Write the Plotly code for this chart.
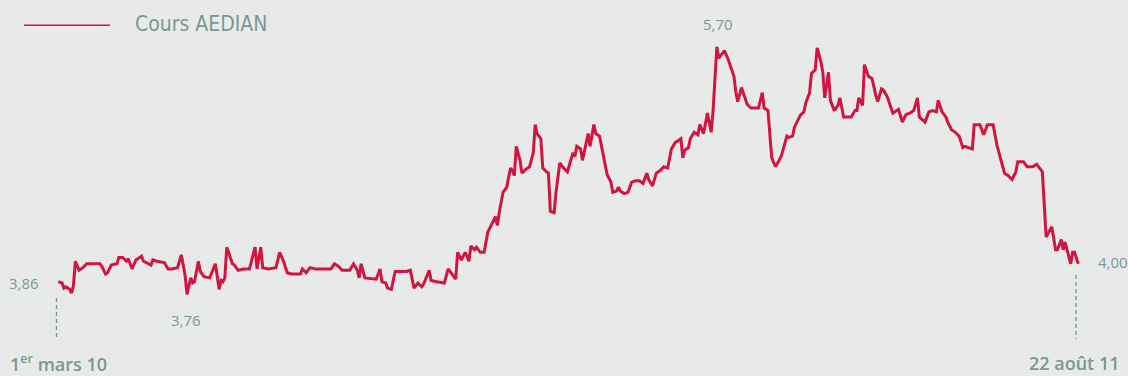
import plotly.graph_objects as go
import pandas as pd

# ---- data ----
start_date = "2010-03-01"
end_date = "2011-08-22"
series_name = "Cours AEDIAN"

day_offsets = [0,2,3,4,6,7,8,9,11,13,15,22,23,25,26,28,31,32,34,36,37,39,41,44,45,48,49,50,52,56,
               58,60,63,65,67,68,70,71,72,74,75,77,80,83,85,86,87,88,89,90,92,93,95,98,101,104,105,107,108,111,
               115,117,119,121,123,128,129,131,133,136,144,146,148,150,154,156,158,159,160,162,168,170,171,173,174,176,178,184,186,188,
               190,192,193,196,197,200,204,206,210,211,213,215,217,218,220,221,223,225,227,228,231,232,233,235,237,238,239,240,241,242,
               244,245,247,249,251,252,253,255,256,258,259,260,262,263,265,267,269,270,272,273,274,276,277,280,281,283,284,286,288,290,
               292,293,295,296,297,299,301,303,305,307,309,311,312,314,316,318,320,322,324,326,329,330,331,333,334,336,338,339,341,343,
               345,346,348,349,351,352,354,355,357,358,359,361,362,364,366,370,372,373,375,376,377,379,380,382,385,386,388,389,392,394,
               395,397,398,400,401,403,404,405,407,408,410,412,413,415,419,421,422,423,425,426,428,430,432,433,435,436,438,440,441,444,
               446,448,450,452,454,455,458,460,462,464,465,467,469,470,472,474,476,478,479,483,484,487,489,491,494,496,498,500,502,504,
               506,507,510,512,515,517,520,521,522,525,527,528,530,531,532,535,536,537,539]

prices = [3.86,3.85,3.81,3.82,3.80,3.77,3.83,4.02,3.95,3.97,4.00,4.00,3.98,3.92,3.93,3.99,4.00,4.05,4.05,4.02,
          4.04,3.96,4.03,4.06,4.02,4.00,3.99,4.03,4.02,4.01,3.96,3.96,3.97,4.07,3.91,3.76,3.89,3.85,3.86,4.02,
          3.94,3.90,3.89,4.00,3.80,3.87,3.86,3.89,4.13,4.09,4.00,3.99,3.95,3.96,3.96,4.13,3.96,4.13,3.97,3.96,
          3.97,4.09,4.02,3.93,3.92,3.92,3.96,3.93,3.97,3.96,3.96,4.00,3.98,3.95,3.95,4.00,3.95,3.89,4.00,3.89,
          3.88,3.96,3.86,3.85,3.81,3.80,3.94,3.94,3.95,3.81,3.85,3.82,3.84,3.95,3.87,3.86,3.85,3.96,3.88,4.09,
          4.03,4.09,4.02,4.14,4.11,4.13,4.09,4.09,4.25,4.28,4.37,4.30,4.40,4.56,4.60,4.68,4.75,4.73,4.69,4.92,
          4.81,4.71,4.74,4.76,4.87,5.09,5.02,4.98,4.75,4.72,4.71,4.41,4.40,4.56,4.79,4.75,4.72,4.77,4.87,4.84,
          4.92,4.90,4.81,5.02,4.92,5.09,5.02,5.00,4.85,4.70,4.64,4.56,4.57,4.60,4.57,4.55,4.56,4.64,4.65,4.65,
          4.63,4.71,4.66,4.61,4.71,4.73,4.76,4.75,4.90,4.95,4.98,4.83,4.89,4.91,4.98,5.03,5.01,5.09,5.02,5.18,
          5.03,5.20,5.70,5.61,5.65,5.67,5.60,5.56,5.47,5.35,5.27,5.38,5.34,5.25,5.22,5.22,5.34,5.22,5.20,4.97,
          4.83,4.76,4.79,4.84,5.00,4.99,5.00,5.07,5.16,5.19,5.26,5.34,5.49,5.52,5.69,5.58,5.50,5.30,5.50,5.28,
          5.20,5.24,5.30,5.15,5.15,5.20,5.20,5.30,5.24,5.56,5.47,5.45,5.32,5.27,5.37,5.36,5.31,5.22,5.18,5.21,
          5.11,5.17,5.18,5.20,5.30,5.15,5.11,5.19,5.20,5.19,5.28,5.19,5.15,5.11,5.05,5.03,5.00,4.91,4.92,4.90,
          5.09,5.09,5.01,5.09,5.09,4.93,4.83,4.71,4.69,4.66,4.72,4.80,4.80,4.76,4.76,4.78,4.72,4.50,4.21,4.29,
          4.11,4.11,4.19,4.11,4.17,4.00,4.09,4.09,4.00]

label_start = "3,86"
label_min = "3,76"
label_max = "5,70"
label_end = "4,00"
date_start_label = "1<sup>er</sup> mars 10"
date_end_label = "22 août 11"

# ---- styling ----
W, H = 1128, 376
RED = "#d3143f"
TXT = "#7b978f"
BG = "#e8eaea"
NUM_FONT = "Open Sans, Noto Sans, sans-serif"
LEG_FONT = "Liberation Sans Narrow, DejaVu Sans Condensed, sans-serif"

t0 = pd.Timestamp(start_date)
dates = t0 + pd.to_timedelta(day_offsets, unit="D")

def px(x):
    return x / W

def py(y):
    return 1 - y / H

fig = go.Figure()
fig.add_trace(go.Scatter(
    x=dates, y=prices, mode="lines", name=series_name,
    line=dict(color=RED, width=3), showlegend=False, hoverinfo="skip",
))

x_range = [t0 - pd.Timedelta(days=30.81), t0 + pd.Timedelta(days=565.26)]
y_range = [3.1216, 6.0659]

shapes = [
    # legend line
    dict(type="line", xref="paper", yref="paper", x0=px(24), x1=px(110), y0=py(25.3), y1=py(25.3),
         line=dict(color=RED, width=1.6)),
    # dashed markers for start / end
    dict(type="line", xref="paper", yref="paper", x0=px(56.5), x1=px(56.5), y0=py(298), y1=py(339),
         line=dict(color=TXT, width=1.4, dash="4px,3px")),
    dict(type="line", xref="paper", yref="paper", x0=px(1076), x1=px(1076), y0=py(275), y1=py(339),
         line=dict(color=TXT, width=1.4, dash="4px,3px")),
]

def ann(text, x, y, xanchor="center", size=15, family=NUM_FONT, weight=None):
    f = dict(color=TXT, size=size, family=family)
    if weight:
        f["weight"] = weight
    return dict(text=text, x=px(x), y=py(y), xref="paper", yref="paper", showarrow=False,
                xanchor=xanchor, yanchor="middle", font=f)

annotations = [
    ann(series_name, 133, 24.5, xanchor="left", size=21, family=LEG_FONT),
    ann(label_start, 24, 282.5),
    ann(label_min, 185.5, 319.5),
    ann(label_max, 717.5, 23.5),
    ann(label_end, 1096, 262, xanchor="left"),
    ann(date_start_label, 8, 363, xanchor="left", size=18, weight=600),
    ann(date_end_label, 1122, 363, xanchor="right", size=18, weight=600),
]

fig.update_layout(
    width=W, height=H,
    margin=dict(l=0, r=0, t=0, b=0),
    paper_bgcolor=BG, plot_bgcolor=BG,
    xaxis=dict(range=x_range, visible=False, showgrid=False, zeroline=False),
    yaxis=dict(range=y_range, visible=False, showgrid=False, zeroline=False),
    shapes=shapes, annotations=annotations,
)

fig.write_html("out.html", config={"displayModeBar": False})
